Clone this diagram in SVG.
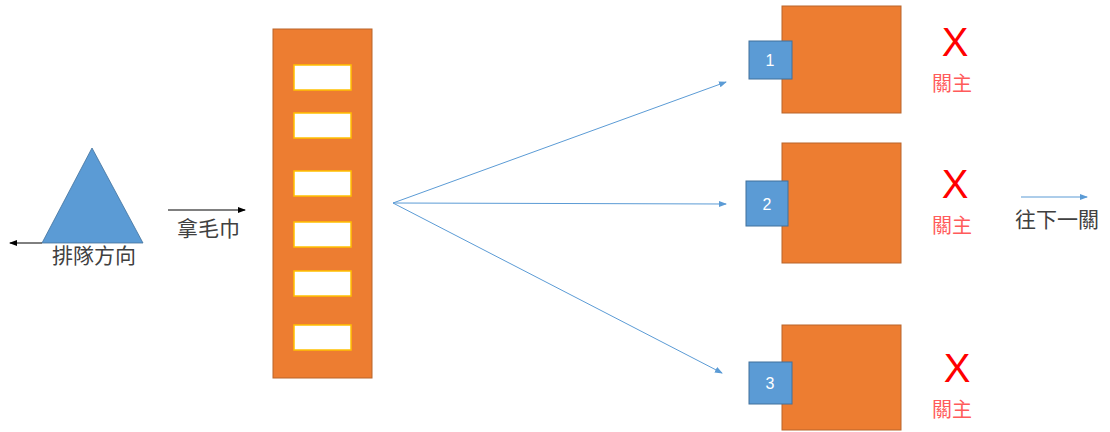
<svg xmlns="http://www.w3.org/2000/svg" width="1110" height="432" viewBox="0 0 1110 432">
<defs>
<style>
.orange{fill:#ED7D31;stroke:#B9652A;stroke-width:1}
.slot{fill:#FFFFFF;stroke:#FFC000;stroke-width:1.5}
.blue{fill:#5B9BD5;stroke:#41719C;stroke-width:1}
.num{font-family:"Liberation Sans","Noto Sans",sans-serif;font-size:16px;fill:#FFFFFF;text-anchor:middle}
.cjk{font-family:"Noto Sans CJK TC","Noto Sans CJK SC",sans-serif;font-size:21px;fill:#404040}
.boss{font-family:"Noto Sans CJK TC","Noto Sans CJK SC",sans-serif;font-size:20px;fill:#FF5B5B;text-anchor:middle}
.x{font-family:"Liberation Sans","Noto Sans",sans-serif;font-size:40px;fill:#FF0000;text-anchor:middle}
.blk{stroke:#000000;stroke-width:1;fill:none}
.bl{stroke:#5B9BD5;stroke-width:1;fill:none}
</style>
<marker id="ab" markerWidth="8" markerHeight="8" refX="7" refY="4" orient="auto" markerUnits="userSpaceOnUse">
<path d="M0,1 L8,4 L0,7 Z" fill="#000000"/>
</marker>
<marker id="abl" markerWidth="8" markerHeight="8" refX="7" refY="4" orient="auto" markerUnits="userSpaceOnUse">
<path d="M0,1 L8,4 L0,7 Z" fill="#5B9BD5"/>
</marker>
</defs>
<rect width="1110" height="432" fill="#FFFFFF"/>

<g id="queue">
<polygon points="92,148 42,243 143,243" fill="#5B9BD5" stroke="#41719C" stroke-width="0.8"/>
<text class="cjk" x="52" y="263">排隊方向</text>
</g>

<g id="towel-rack">
<rect class="orange" x="273" y="29" width="99" height="349"/>
<rect class="slot" x="294" y="65" width="57" height="25"/>
<rect class="slot" x="294" y="113" width="57" height="25"/>
<rect class="slot" x="294" y="171" width="57" height="25"/>
<rect class="slot" x="294" y="222" width="57" height="25"/>
<rect class="slot" x="294" y="271" width="57" height="25"/>
<rect class="slot" x="294" y="325" width="57" height="25"/>
</g>

<g id="label-towel">
<text class="cjk" x="177" y="236">拿毛巾</text>
</g>

<g id="station1">
<rect class="orange" x="782" y="6" width="119" height="107"/>
<rect class="blue" x="749" y="41" width="43" height="38"/>
<text class="num" x="770" y="66">1</text>
<text class="x" x="955" y="56">X</text>
<text class="boss" x="952" y="91">關主</text>
</g>

<g id="station2">
<rect class="orange" x="782" y="143" width="119" height="120"/>
<rect class="blue" x="746" y="181" width="42" height="45"/>
<text class="num" x="767" y="210">2</text>
<text class="x" x="955" y="198">X</text>
<text class="boss" x="952" y="233">關主</text>
</g>

<g id="station3">
<rect class="orange" x="782" y="325" width="119" height="105"/>
<rect class="blue" x="749" y="362" width="43" height="42"/>
<text class="num" x="770" y="389">3</text>
<text class="x" x="957" y="382">X</text>
<text class="boss" x="952" y="417">關主</text>
</g>

<g id="label-next">
<text class="cjk" x="1015" y="227">往下一關</text>
</g>

<g id="connectors">
<line class="blk" x1="42" y1="243" x2="10" y2="243" marker-end="url(#ab)"/>
<line class="blk" x1="168" y1="210" x2="245" y2="210" marker-end="url(#ab)"/>
<line class="bl" x1="393" y1="203" x2="726" y2="82" marker-end="url(#abl)"/>
<line class="bl" x1="393" y1="203" x2="726" y2="204" marker-end="url(#abl)"/>
<line class="bl" x1="393" y1="203" x2="722" y2="373" marker-end="url(#abl)"/>
<line class="bl" x1="1021" y1="197" x2="1087" y2="197" marker-end="url(#abl)"/>
</g>
</svg>
